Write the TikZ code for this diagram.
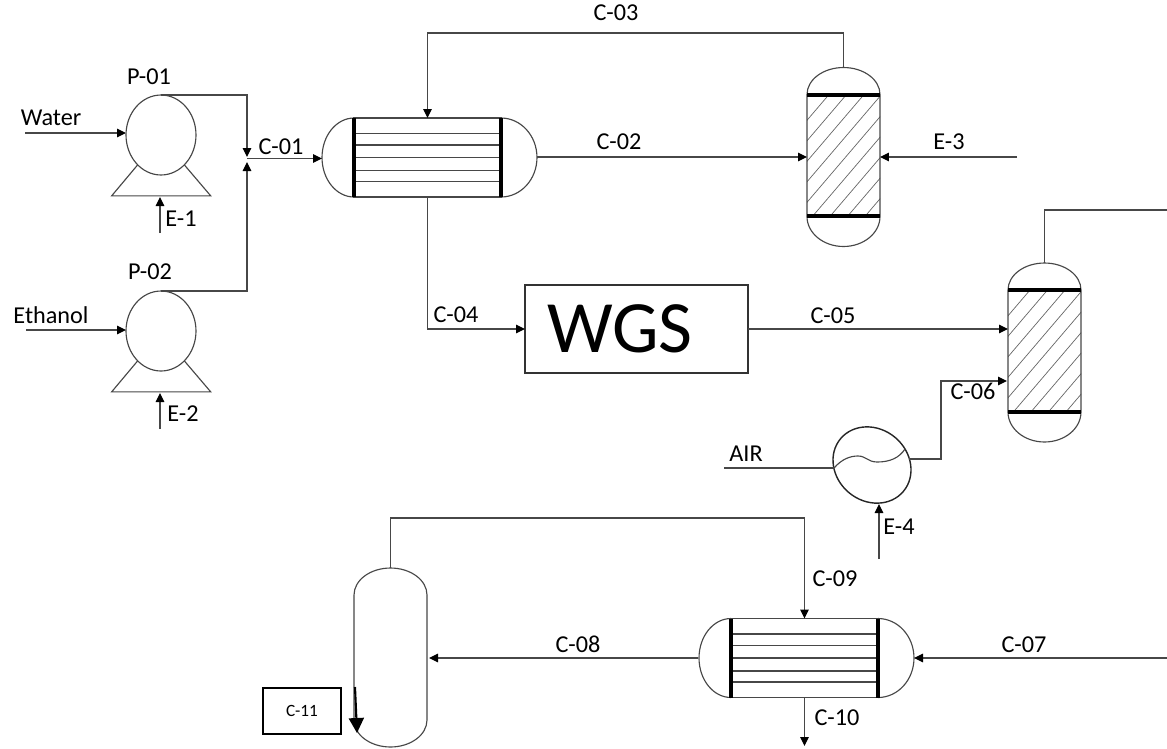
\documentclass[tikz,border=0pt]{standalone}
\usepackage{fontspec}
\setmainfont{Carlito}
\usetikzlibrary{arrows.meta,shapes.geometric}
\colorlet{pipe}{black!72}
\tikzset{
  flow/.style={draw=pipe,line width=0.65pt,-{Triangle[length=0.18cm,width=0.17cm,fill=black,color=black]}},
  pipeline/.style={draw=pipe,line width=0.65pt},
  bigflow/.style={draw=black,line width=1.2pt,-{Triangle[length=0.3cm,width=0.3cm,fill=black,color=black]}},
  hatchline/.style={draw=black!60,line width=0.4pt},
  sheet/.style={draw=black,line width=0.08cm},
  pumpbody/.style={ellipse,draw=pipe,line width=0.65pt,minimum width=1.4cm,minimum height=1.6cm},
  hxbody/.style={draw=pipe,line width=0.65pt,minimum width=2.94cm,minimum height=1.58cm},
  colbody/.style={minimum width=1.46cm,minimum height=2.44cm},
}
\begin{document}
\begin{tikzpicture}[x=0.02cm,y=0.02cm]
        \tikzstyle{every node}+=[inner sep=0pt,outer sep=0pt,font=\fontsize{13.8}{16}\selectfont]
        \useasboundingbox (0,0) rectangle (1167,-748);
        % pumps
        \node [pumpbody] (pump1) at (161,-135) {};
        \node [pumpbody] (pump2) at (161,-331) {};
        \draw [pipeline] (pump1.232) -- ++(-26,-31) -- ++(99,0) -- (pump1.308);
        \draw [pipeline] (pump2.232) -- ++(-26,-31) -- ++(99,0) -- (pump2.308);
        \coordinate (watersrc) at (25,-133);
        \coordinate (ethanolsrc) at (26,-330);
        \coordinate (e1src) at (160,-233);
        \coordinate (e1end) at (160,-197);
        \coordinate (e2src) at (160,-429);
        \coordinate (e2end) at (160,-393);
        \coordinate (mixtop) at (247,-157);
        \coordinate (mixlow) at (247,-162);
        \coordinate (mixout) at (247,-158.5);
        \draw [flow] (watersrc) -- (watersrc -| pump1.west);
        \draw [flow] (ethanolsrc) -- (ethanolsrc -| pump2.west);
        \draw [flow] (e1src) -- (e1end);
        \draw [flow] (e2src) -- (e2end);
        \draw [flow] (pump1.north) -| (mixtop);
        \draw [flow] (pump2.north) -| (mixlow);
        % exchangers
        \node [hxbody] (hx1) at (427.5,-157.5) {};
        \node [hxbody] (hx2) at (804.5,-658) {};
        \foreach \hx in {hx1,hx2} {
          \foreach \dy in {24,12.5,0,-13,-24}
            \draw [pipeline] (\hx.west) ++(0,\dy) -- ++(147,0);
          \draw [pipeline] (\hx.north west) arc[start angle=90,end angle=270,x radius=32,y radius=39.5];
          \draw [pipeline] (\hx.north east) arc[start angle=90,end angle=-90,x radius=36,y radius=39.5];
          \draw [sheet] (\hx.north west) -- (\hx.south west);
          \draw [sheet] (\hx.north east) -- (\hx.south east);
        }
        \coordinate (hx1in) at (322,-158.5);
        \coordinate (hx1out) at (537,-157);
        \coordinate (hx2west) at (698,-658);
        \coordinate (hx2east) at (914,-658);
        \draw [flow] (mixout) -- (hx1in);
        % packed columns
        \node [colbody] (col1) at (843.5,-155.5) {};
        \node [colbody] (col2) at (1044.5,-351) {};
        \foreach \col in {col1,col2} {
          \begin{scope}
            \clip (\col.south west) rectangle (\col.north east);
            \foreach \k in {0,...,8}
              \draw [hatchline] (\col.north west) ++(22+17.5*\k,0) -- ++(-140,-164);
          \end{scope}
          \draw [pipeline] (\col.south west) -- (\col.north west) arc[start angle=180,end angle=0,x radius=36.5,y radius=27] -- (\col.south east) arc[start angle=0,end angle=-180,x radius=36.5,y radius=30];
          \draw [sheet] (\col.north west) -- (\col.north east);
          \draw [sheet] (\col.south west) -- (\col.south east);
        }
        \coordinate (col1top) at (843.5,-67);
        \coordinate (col2top) at (1044.5,-263);
        \coordinate (col2exit) at (1167,-210);
        \coordinate (e3src) at (1017,-157);
        \draw [flow] (col1top) -- ++(0,34) -| (hx1.north);
        \draw [flow] (hx1out) -- (hx1out -| col1.west);
        \draw [flow] (e3src) -- (e3src -| col1.east);
        \draw [pipeline] (col2top) |- (col2exit);
        % WGS reactor
        \node [draw=black!80,line width=0.6pt,minimum width=4.46cm,minimum height=1.76cm] (wgs) at (636.5,-329) {};
        \node [font=\fontsize{42}{48}\selectfont] (lblwgs) at (620,-329) {WGS};
        \draw [flow] (hx1.south) |- (wgs.west);
        \draw [flow] (wgs.east) -- (wgs.east -| col2.west);
        % air heater
        \node [ellipse,draw=black!85,line width=0.8pt,rotate=-40,minimum width=1.64cm,minimum height=1.44cm] (heater) at (872,-465) {};
        \coordinate (airsrc) at (724,-468);
        \coordinate (airend) at (834,-468);
        \coordinate (heaterout) at (909,-459);
        \coordinate (col2in) at (1007,-381);
        \coordinate (e4src) at (879,-559);
        \coordinate (e4end) at (879,-504);
        \draw [pipeline] (airsrc) -- (airend);
        \draw [pipeline] (airend) .. controls (842,-459) and (850,-456) .. (858,-456) .. controls (866,-456) and (868,-462) .. (877,-462) .. controls (890,-462) and (899,-458) .. (905,-449);
        \draw [flow] (heaterout) -- ++(32,0) |- (col2in);
        \draw [flow] (e4src) -- (e4end);
        % separator
        \node [colbody,minimum height=2.5cm] (sep) at (390.5,-657.5) {};
        \draw [pipeline] (sep.south west) -- (sep.north west) arc[start angle=180,end angle=0,x radius=36.5,y radius=27] -- (sep.south east) arc[start angle=0,end angle=-180,x radius=36.5,y radius=27];
        \coordinate (septop) at (390.5,-568);
        \coordinate (sepin) at (429,-658);
        \coordinate (c07src) at (1167,-658);
        \coordinate (c10end) at (804.5,-746);
        \draw [flow] (septop) -- ++(0,50) -| (hx2.north);
        \draw [flow] (hx2west) -- (sepin);
        \draw [flow] (c07src) -- (hx2east);
        \draw [flow] (hx2.south) -- (c10end);
        \node [draw=black,line width=0.85pt,minimum width=1.56cm,minimum height=0.92cm,font=\fontsize{9.8}{11}\selectfont] (c11) at (302,-711) {C-11};
        \coordinate (c11src) at (355,-687);
        \coordinate (c11tip) at (357,-733);
        \draw [bigflow] (c11src) -- (c11tip);
        % labels
        \node (lblwater) at (51,-118) {Water};
        \node (lblethanol) at (51,-315) {Ethanol};
        \node (lblp1) at (149,-77) {P-01};
        \node (lblp2) at (150,-272) {P-02};
        \node (lble1) at (181,-219) {E-1};
        \node (lble2) at (183,-414) {E-2};
        \node (lble3) at (949,-142) {E-3};
        \node (lble4) at (899,-527) {E-4};
        \node (lblair) at (746,-454) {AIR};
        \node (lblc1) at (281,-147) {C-01};
        \node (lblc2) at (619,-142) {C-02};
        \node (lblc3) at (616,-13) {C-03};
        \node (lblc4) at (456,-315) {C-04};
        \node (lblc5) at (833,-316) {C-05};
        \node (lblc6) at (973,-391) {C-06};
        \node (lblc7) at (1024,-645) {C-07};
        \node (lblc8) at (578,-644) {C-08};
        \node (lblc9) at (835,-579) {C-09};
        \node (lblc10) at (837,-718) {C-10};
\end{tikzpicture}
\end{document}
